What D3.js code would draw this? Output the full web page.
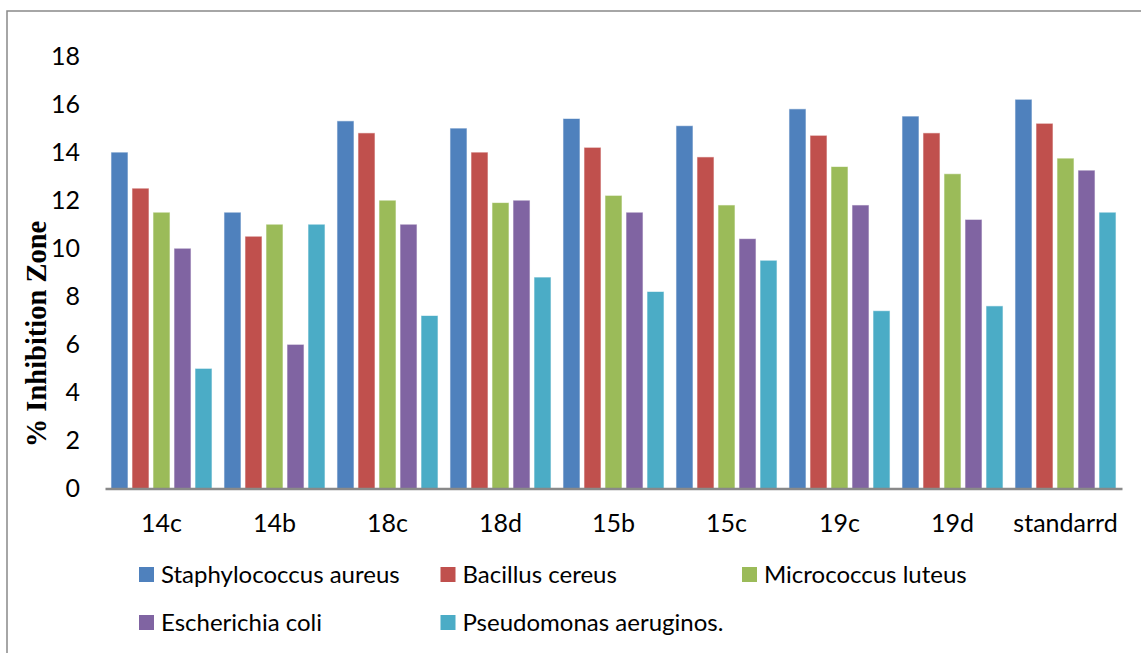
<!DOCTYPE html>
<html>
<head>
<meta charset="utf-8">
<script src="https://cdn.jsdelivr.net/npm/d3@7"></script>
<style>
  body { margin: 0; background: #fff; }
  svg { display: block; }
</style>
</head>
<body>
<svg id="chart"></svg>
<script>
// compounds on the x axis
const categories = ['14c', '14b', '18c', '18d', '15b', '15c', '19c', '19d', 'standarrd'];
const series = ['Staphylococcus aureus', 'Bacillus cereus', 'Micrococcus luteus', 'Escherichia coli', 'Pseudomonas aeruginos.'];

// values, one array per organism
const staphylococcus = [14, 11.5, 15.3, 15, 15.4, 15.1, 15.8, 15.5, 16.2];
const bacillus       = [12.5, 10.5, 14.8, 14, 14.2, 13.8, 14.7, 14.8, 15.2];
const micrococcus    = [11.5, 11, 12, 11.9, 12.2, 11.8, 13.4, 13.1, 13.75];
const escherichia    = [10, 6, 11, 12, 11.5, 10.4, 11.8, 11.2, 13.25];
const pseudomonas    = [5, 11, 7.2, 8.8, 8.2, 9.5, 7.4, 7.6, 11.5];

const yTicks = [0, 2, 4, 6, 8, 10, 12, 14, 16, 18];
const colors = ['#4F81BD', '#C0504D', '#9BBB59', '#8064A2', '#4BACC6'];

const values = [staphylococcus, bacillus, micrococcus, escherichia, pseudomonas];
const data = categories.map((c, i) => ({
    label: c,
    vals: series.map((s, j) => ({ key: s, value: values[j][i] }))
}));

const width = 1141, height = 653;
const svg = d3.select('#chart').attr('width', width).attr('height', height);

// outer frame
svg.append('rect')
    .attr('x', 7).attr('y', 11)
    .attr('width', width + 20).attr('height', height + 20)
    .attr('fill', 'none')
    .attr('stroke', '#898989')
    .attr('stroke-width', 1.5);

const x0 = d3.scaleBand()
    .domain(categories)
    .range([105, 1122]);

const x1 = d3.scaleBand()
    .domain(series)
    .range([0, x0.bandwidth()])
    .paddingInner(0.19)
    .paddingOuter(0.285);

const yscale = d3.scaleLinear()
    .domain([0, 18])
    .range([488.5, 56]);

const font = 'Lato, "Open Sans", sans-serif';

// y axis labels (no axis line)
const yaxis = d3.axisLeft(yscale).tickValues(yTicks).tickSize(0).tickPadding(0);
const ygroup = svg.append('g')
    .attr('transform', 'translate(80,0)')
    .call(yaxis);
ygroup.select('.domain').remove();
ygroup.selectAll('text')
    .attr('font-family', font)
    .attr('font-size', 25)
    .attr('fill', '#000');

// bars
const groups = svg.append('g').selectAll('g')
    .data(data).enter()
    .append('g')
    .attr('transform', d => `translate(${x0(d.label)},0)`);

groups.selectAll('rect')
    .data(d => d.vals).enter()
    .append('rect')
    .attr('x', d => x1(d.key))
    .attr('y', d => yscale(d.value))
    .attr('width', x1.bandwidth())
    .attr('height', d => yscale(0) - yscale(d.value))
    .attr('fill', (d, i) => colors[i])
    .attr('stroke', '#fff')
    .attr('stroke-opacity', 0.6)
    .attr('stroke-width', 1);

// x axis
const xaxis = d3.axisBottom(x0).tickSize(0).tickPadding(26);
const xgroup = svg.append('g')
    .attr('transform', `translate(0,${yscale(0)})`)
    .call(xaxis);
xgroup.select('.domain')
    .attr('stroke', '#898989')
    .attr('stroke-width', 2.5);
xgroup.selectAll('text')
    .attr('font-family', font)
    .attr('font-size', 25)
    .attr('fill', '#000');

// y axis title
svg.append('text')
    .attr('transform', 'translate(46,334) rotate(-90)')
    .attr('text-anchor', 'middle')
    .attr('font-family', '"Liberation Serif", "Times New Roman", serif')
    .attr('font-weight', 'bold')
    .attr('font-size', 28.5)
    .text('% Inhibition Zone');

// legend, three columns and two rows
const legend = svg.append('g').selectAll('g')
    .data(series).enter()
    .append('g')
    .attr('transform', (d, i) => `translate(${139 + (i % 3) * 301.5},${567 + Math.floor(i / 3) * 48})`);

legend.append('rect')
    .attr('width', 15).attr('height', 15)
    .attr('fill', (d, i) => colors[i]);

legend.append('text')
    .attr('x', 22).attr('y', 7.5)
    .attr('dy', '0.35em')
    .attr('font-family', font)
    .attr('font-size', 24)
    .text(d => d);
</script>
</body>
</html>
